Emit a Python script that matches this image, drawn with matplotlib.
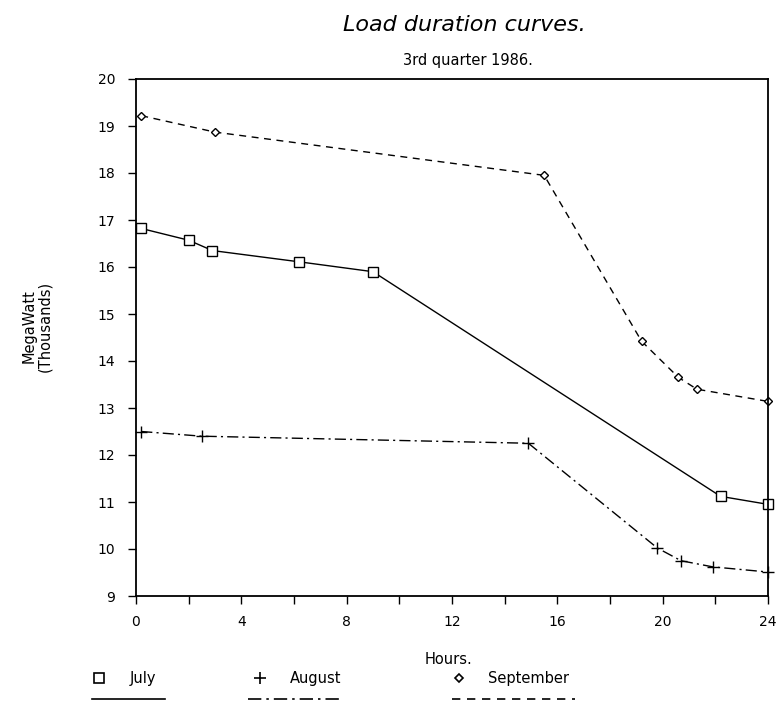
import matplotlib
matplotlib.use('Agg')
import matplotlib.pyplot as plt
from matplotlib.lines import Line2D

# Data (hours, thousands of MW)
july_hours = [0.2, 2.0, 2.9, 6.2, 9.0, 22.2, 24.0]
july_mw = [16.82, 16.57, 16.35, 16.11, 15.90, 11.12, 10.95]

aug_hours = [0.2, 2.5, 14.9, 19.8, 20.7, 21.9, 24.0]
aug_mw = [12.50, 12.40, 12.25, 10.02, 9.75, 9.62, 9.51]

sep_hours = [0.2, 3.0, 15.5, 19.2, 20.6, 21.3, 24.0]
sep_mw = [19.22, 18.87, 17.95, 14.42, 13.65, 13.40, 13.14]

x_major = [0, 4, 8, 12, 16, 20, 24]
x_minor = [2, 6, 10, 14, 18, 22]
y_ticks = list(range(9, 21))

W, H = 780, 707
fig = plt.figure(figsize=(W / 100, H / 100), dpi=100)
fig.patch.set_facecolor('white')

# axes box in pixel terms -> figure fractions
left, right, top, bottom = 136, 768, 79, 596
ax = fig.add_axes([left / W, 1 - bottom / H, (right - left) / W, (bottom - top) / H])

dashdot = (0, (8, 3, 1.5, 3))
dashed = (0, (5, 4))

ax.plot(july_hours, july_mw, color='black', lw=1.0, ls='-',
        marker='s', ms=7, mfc='white', mec='black', mew=1.0, clip_on=False)
ax.plot(aug_hours, aug_mw, color='black', lw=1.0, ls=dashdot,
        marker='+', ms=8, mew=1.0, clip_on=False)
ax.plot(sep_hours, sep_mw, color='black', lw=1.0, ls=dashed,
        marker='D', ms=4.5, mfc='white', mec='black', mew=1.0, clip_on=False)

ax.set_xlim(0, 24)
ax.set_ylim(9, 20)
ax.set_xticks(x_major)
ax.set_xticks(x_minor, minor=True)
ax.set_yticks(y_ticks)
ax.tick_params(axis='x', which='both', direction='out', length=6, width=1,
               pad=8, labelsize=10, top=False)
ax.tick_params(axis='y', direction='out', length=6, width=1,
               pad=9, labelsize=10, right=False)
for s in ax.spines.values():
    s.set_linewidth(1.3)

# titles
fig.text(464 / W, 1 - 25 / H, 'Load duration curves.', ha='center', va='center',
         fontsize=16, style='italic')
fig.text(468 / W, 1 - 61 / H, '3rd quarter 1986.', ha='center', va='center',
         fontsize=10.5)
fig.text(37 / W, 1 - 326 / H, 'MegaWatt\n(Thousands)', ha='center', va='center',
         rotation=90, fontsize=10.5, linespacing=1.0)
fig.text(449 / W, 1 - 660 / H, 'Hours.', ha='center', va='center', fontsize=10.5)

# legend: marker + name on one row, line sample underneath
legend_items = [
    ('July', dict(marker='s', ms=7, mfc='white', mec='black', mew=1.2), '-', 99, 130, 92, 165),
    ('August', dict(marker='+', ms=8, mec='black', mew=1.2), dashdot, 260, 290, 248, 340),
    ('September', dict(marker='D', ms=4.5, mfc='white', mec='black', mew=1.2), dashed, 459, 488, 452, 575),
]
for name, mk, ls, mx, tx, lx0, lx1 in legend_items:
    fig.add_artist(Line2D([mx / W], [1 - 678 / H], transform=fig.transFigure,
                          ls='none', **mk))
    fig.text(tx / W, 1 - 678 / H, name, ha='left', va='center', fontsize=10.5)
    fig.add_artist(Line2D([lx0 / W, lx1 / W], [1 - 699 / H, 1 - 699 / H],
                          transform=fig.transFigure, color='black', lw=1.2, ls=ls))

plt.savefig('out.png', dpi=100, facecolor='white')
